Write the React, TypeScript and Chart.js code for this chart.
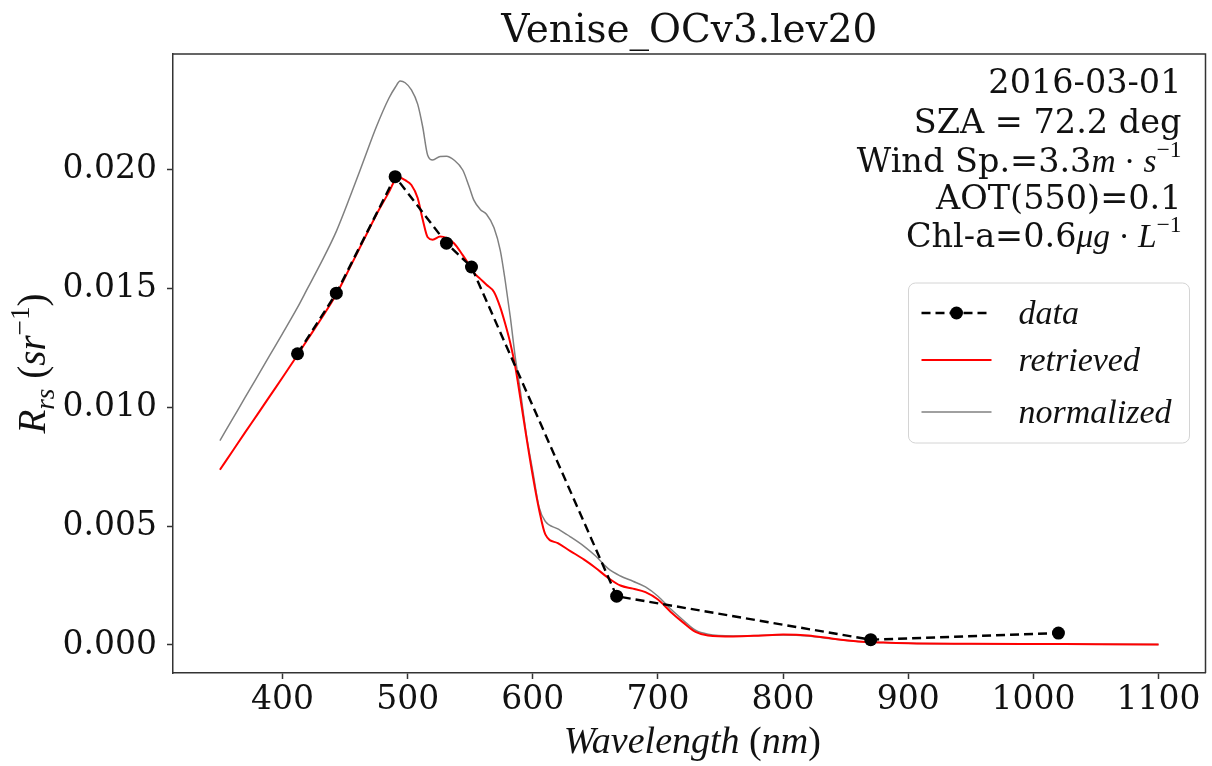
import React, { useEffect, useRef } from "react";
import { Chart, registerables } from "chart.js";

Chart.register(...registerables);

const chartTitle = "Venise_OCv3.lev20";
const xTicks = [400, 500, 600, 700, 800, 900, 1000, 1100];
const yTicks = [0, 0.005, 0.01, 0.015, 0.02];

const dataWavelengths = [412, 443, 490, 531, 551, 667, 870, 1020];
const dataRrs = [0.01225, 0.0148, 0.0197, 0.0169, 0.0159, 0.00205, 0.00022, 0.0005];

const modelWavelengths = [
  350, 360, 370, 380, 390, 400, 412, 420, 430, 443, 455, 465, 475, 485, 490, 494, 498, 503, 508, 512,
  516, 520, 526, 531, 537, 544, 549, 553, 558, 563, 569, 574, 578, 582, 586, 590, 595, 600, 605, 610,
  620, 630, 641, 650, 660, 670, 680, 690, 700, 710, 720, 730, 740, 760, 780, 800, 820, 840, 860, 880,
  900, 950, 1000, 1050, 1100,
];
const retrievedRrs = [
  0.00737, 0.00815, 0.00893, 0.0097, 0.01048, 0.01125, 0.0122, 0.01285, 0.01365, 0.01475, 0.016, 0.01705,
  0.0181, 0.01905, 0.01955, 0.01965, 0.01955, 0.01935, 0.0188, 0.0179, 0.01715, 0.01705, 0.01718, 0.01712,
  0.0169, 0.0164, 0.016, 0.01565, 0.0154, 0.01515, 0.01485, 0.0142, 0.0135, 0.0127, 0.0117, 0.0104,
  0.0087, 0.0071, 0.0057, 0.00465, 0.00428, 0.00395, 0.00359, 0.00325, 0.00283, 0.0025, 0.00237, 0.00222,
  0.00191, 0.0014, 0.00095, 0.00055, 0.0004, 0.00036, 0.00039, 0.00044, 0.0004, 0.00026, 0.00015, 0.0001,
  0.00007, 0.00005, 0.00004, 0.00003, 0.00002,
];
const normalizedRrs = [
  0.0086, 0.0095, 0.0104, 0.0113, 0.0122, 0.0131, 0.0142, 0.015, 0.016, 0.0174, 0.019, 0.0204,
  0.0218, 0.023, 0.02345, 0.02372, 0.02365, 0.02335, 0.02275, 0.0218, 0.0206, 0.0204, 0.02055, 0.02056,
  0.0204, 0.01998, 0.0193, 0.0187, 0.01832, 0.01812, 0.01755, 0.0166, 0.0153, 0.0138, 0.0121, 0.0107,
  0.0088, 0.0073, 0.0058, 0.0052, 0.00488, 0.00455, 0.00415, 0.00375, 0.00322, 0.0029, 0.00268, 0.00244,
  0.00205, 0.00152, 0.00105, 0.00062, 0.00045, 0.00038, 0.0004, 0.00042, 0.00038, 0.00025, 0.00015, 0.0001,
  0.00007, 0.00005, 0.00004, 0.00003, 0.00002,
];

const legendLabels = ["data", "retrieved", "normalized"];

const UP = '"DejaVu Serif", serif';
const MATH = '"Liberation Serif", "Times New Roman", serif';

interface Seg {
  t: string;
  it?: boolean;
  math?: boolean;
  sup?: boolean;
  sub?: boolean;
}

const infoLines: Seg[][] = [
  [{ t: "2016-03-01" }],
  [{ t: "SZA = 72.2 deg" }],
  [
    { t: "Wind Sp.=3.3" },
    { t: "m", it: true, math: true },
    { t: " · ", math: true },
    { t: "s", it: true, math: true },
    { t: "−1", math: true, sup: true },
  ],
  [{ t: "AOT(550)=0.1" }],
  [
    { t: "Chl-a=0.6" },
    { t: "μg", it: true, math: true },
    { t: " · ", math: true },
    { t: "L", it: true, math: true },
    { t: "−1", math: true, sup: true },
  ],
];

const xLabel: Seg[] = [
  { t: "Wavelength", it: true, math: true },
  { t: " (", math: true },
  { t: "nm", it: true, math: true },
  { t: ")", math: true },
];

const yLabel: Seg[] = [
  { t: "R", it: true, math: true },
  { t: "rs", it: true, math: true, sub: true },
  { t: " (", math: true },
  { t: "sr", it: true, math: true },
  { t: "−1", math: true, sup: true },
  { t: ")", math: true },
];

function segFont(s: Seg, size: number) {
  const fs = s.sup || s.sub ? size * 0.7 : size;
  return `${s.it ? "italic " : ""}${fs}px ${s.math ? MATH : UP}`;
}

function drawRich(
  ctx: CanvasRenderingContext2D,
  segs: Seg[],
  x: number,
  y: number,
  size: number,
  align: "left" | "center" | "right"
) {
  const parts = segs.map((s) => {
    const font = segFont(s, size);
    ctx.font = font;
    const w = ctx.measureText(s.t).width;
    const dy = s.sup ? -size * 0.42 : s.sub ? size * 0.22 : 0;
    return { s, font, w, dy };
  });
  const total = parts.reduce((a, p) => a + p.w, 0);
  let cx = align === "right" ? x - total : align === "center" ? x - total / 2 : x;
  ctx.textAlign = "left";
  ctx.textBaseline = "alphabetic";
  for (const p of parts) {
    ctx.font = p.font;
    ctx.fillText(p.s.t, cx, y + p.dy);
    cx += p.w;
  }
}

const decorPlugin = {
  id: "decor",
  beforeDraw(chart: any) {
    const ctx = chart.ctx as CanvasRenderingContext2D;
    ctx.save();
    ctx.fillStyle = "#ffffff";
    ctx.fillRect(0, 0, chart.width, chart.height);
    ctx.restore();
  },
  afterDraw(chart: any) {
    const ctx = chart.ctx as CanvasRenderingContext2D;
    const { left, top, right, bottom } = chart.chartArea;
    const cxm = (left + right) / 2;
    const cym = (top + bottom) / 2;
    ctx.save();
    // top & right spines
    ctx.strokeStyle = "#333333";
    ctx.lineWidth = 1.5;
    ctx.beginPath();
    ctx.moveTo(left, top);
    ctx.lineTo(right, top);
    ctx.lineTo(right, bottom);
    ctx.stroke();

    ctx.fillStyle = "#111111";
    // title
    ctx.font = `39px ${UP}`;
    ctx.textAlign = "center";
    ctx.textBaseline = "alphabetic";
    ctx.fillText(chartTitle, cxm, top - 12);

    // x label
    drawRich(ctx, xLabel, cxm + 3, bottom + 80, 38, "center");

    // y label
    ctx.save();
    ctx.translate(32, cym);
    ctx.rotate(-Math.PI / 2);
    drawRich(ctx, yLabel, 0, 13, 39, "center");
    ctx.restore();

    // info text
    const baselines = [39, 78.5, 117.5, 154.5, 192.5];
    infoLines.forEach((line, i) => {
      drawRich(ctx, line, right - 24, top + baselines[i], 33.5, "right");
    });

    // legend
    const lx = right - 297;
    const ly = top + 229;
    const lw = 281;
    const lh = 160;
    ctx.beginPath();
    (ctx as any).roundRect(lx, ly, lw, lh, 7);
    ctx.fillStyle = "rgba(255,255,255,0.85)";
    ctx.fill();
    ctx.strokeStyle = "#d4d4d4";
    ctx.lineWidth = 1;
    ctx.stroke();

    const rows = [30, 77, 129];
    chart.data.datasets.forEach((ds: any, i: number) => {
      const ry = ly + rows[i];
      ctx.save();
      ctx.strokeStyle = ds.borderColor;
      ctx.lineWidth = ds.borderWidth;
      ctx.setLineDash(ds.borderDash || []);
      ctx.beginPath();
      ctx.moveTo(lx + 13, ry);
      ctx.lineTo(lx + 83, ry);
      ctx.stroke();
      if (ds.pointRadius > 0) {
        ctx.setLineDash([]);
        ctx.fillStyle = ds.pointBackgroundColor;
        ctx.beginPath();
        ctx.arc(lx + 48, ry, ds.pointRadius, 0, Math.PI * 2);
        ctx.fill();
      }
      ctx.restore();
      ctx.fillStyle = "#111111";
      ctx.font = `italic 34px ${MATH}`;
      ctx.textAlign = "left";
      ctx.textBaseline = "middle";
      ctx.fillText(ds.label, lx + 110, ry + 2);
    });
    ctx.restore();
  },
};

export default function App() {
  const canvasRef = useRef<HTMLCanvasElement | null>(null);

  useEffect(() => {
    const canvas = canvasRef.current;
    if (!canvas) return;
    const chart = new Chart(canvas, {
      type: "line",
      data: {
        datasets: [
          {
            label: legendLabels[0],
            data: dataWavelengths.map((x, i) => ({ x, y: dataRrs[i] })),
            borderColor: "#000000",
            backgroundColor: "#000000",
            borderDash: [9, 5],
            borderWidth: 2.4,
            pointRadius: 6.5,
            pointBackgroundColor: "#000000",
            pointBorderWidth: 0,
            tension: 0,
          },
          {
            label: legendLabels[1],
            data: modelWavelengths.map((x, i) => ({ x, y: retrievedRrs[i] })),
            borderColor: "#ff0000",
            backgroundColor: "#ff0000",
            borderWidth: 2,
            pointRadius: 0,
            cubicInterpolationMode: "monotone",
          },
          {
            label: legendLabels[2],
            data: modelWavelengths.map((x, i) => ({ x, y: normalizedRrs[i] })),
            borderColor: "#808080",
            backgroundColor: "#808080",
            borderWidth: 1.5,
            pointRadius: 0,
            cubicInterpolationMode: "monotone",
          },
        ],
      } as any,
      options: {
        responsive: false,
        animation: false,
        events: [],
        layout: { padding: { top: 54, right: 3, left: 0, bottom: 0 } },
        plugins: {
          legend: { display: false },
          tooltip: { enabled: false },
          title: { display: false },
        },
        scales: {
          x: {
            type: "linear",
            min: 312.5,
            max: 1137.5,
            afterBuildTicks: (scale: any) => {
              scale.ticks = xTicks.map((v) => ({ value: v }));
            },
            afterFit: (scale: any) => {
              scale.height = 93;
            },
            ticks: {
              font: { family: UP, size: 33 },
              color: "#111111",
              padding: 2,
              maxRotation: 0,
              autoSkip: false,
              callback: (v: any) => String(v),
            },
            grid: {
              drawOnChartArea: false,
              drawTicks: true,
              tickLength: 6,
              tickColor: "#333333",
              tickWidth: 1.5,
            },
            border: { display: true, color: "#333333", width: 1.5 },
          },
          y: {
            type: "linear",
            min: -0.00118,
            max: 0.02486,
            afterBuildTicks: (scale: any) => {
              scale.ticks = yTicks.map((v) => ({ value: v }));
            },
            afterFit: (scale: any) => {
              scale.width = 173;
            },
            ticks: {
              font: { family: UP, size: 33 },
              color: "#111111",
              padding: 10,
              autoSkip: false,
              callback: (v: any) => Number(v).toFixed(3),
            },
            grid: {
              drawOnChartArea: false,
              drawTicks: true,
              tickLength: 6,
              tickColor: "#333333",
              tickWidth: 1.5,
            },
            border: { display: true, color: "#333333", width: 1.5 },
          },
        },
      } as any,
      plugins: [decorPlugin],
    });
    return () => {
      chart.destroy();
    };
  }, []);

  return (
    <div style={{ position: "fixed", left: 0, top: 0, width: 1212, height: 766, background: "#fff" }}>
      <canvas ref={canvasRef} width={1212} height={766} style={{ display: "block" }} />
    </div>
  );
}
